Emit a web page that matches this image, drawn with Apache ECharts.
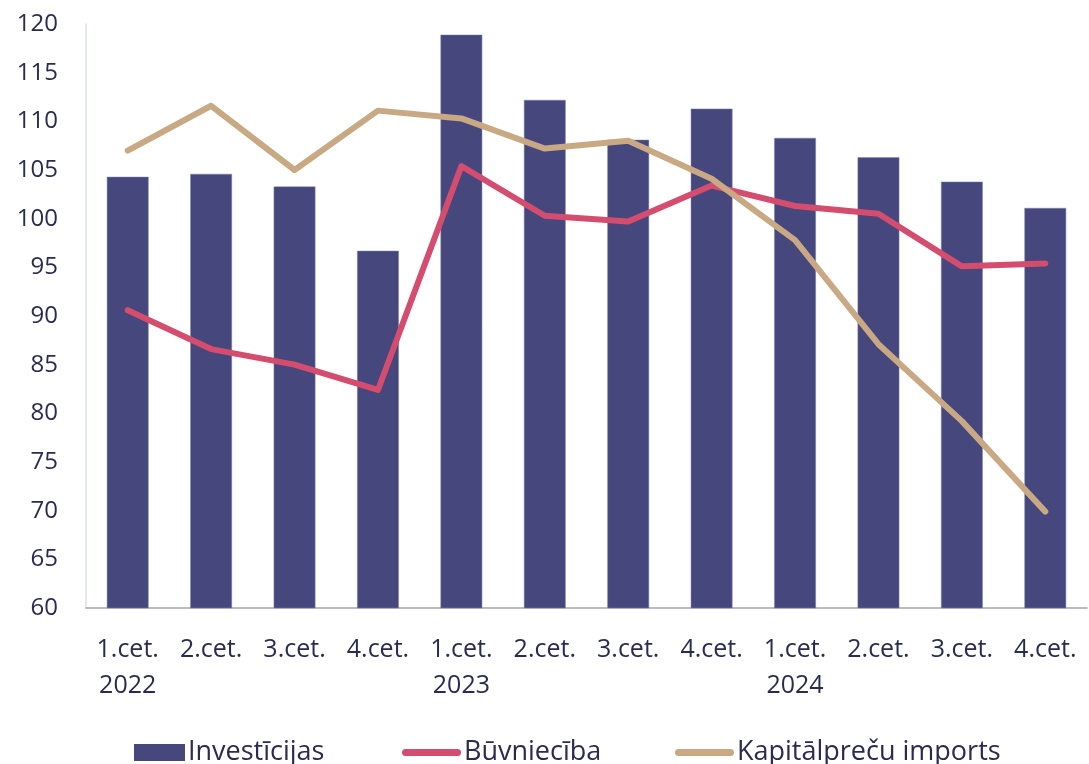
<!DOCTYPE html>
<html>
<head>
<meta charset="utf-8">
<script src="https://cdn.jsdelivr.net/npm/echarts@6/dist/echarts.min.js"></script>
<style>
  html, body { margin: 0; padding: 0; background: #ffffff; }
  #chart { width: 1089px; height: 764px; }
</style>
</head>
<body>
<div id="chart"></div>
<script>
var categories = [
  "1.cet.\n2022", "2.cet.", "3.cet.", "4.cet.",
  "1.cet.\n2023", "2.cet.", "3.cet.", "4.cet.",
  "1.cet.\n2024", "2.cet.", "3.cet.", "4.cet."
];
var investicijas = [104.3, 104.6, 103.3, 96.7, 118.9, 112.2, 108.1, 111.3, 108.3, 106.3, 103.8, 101.1];
var buvnieciba = [90.6, 86.6, 85.0, 82.4, 105.4, 100.3, 99.7, 103.4, 101.3, 100.5, 95.1, 95.4];
var kapitalpreces = [107.0, 111.6, 105.0, 111.1, 110.3, 107.2, 108.0, 104.1, 97.8, 87.1, 79.2, 69.9];

var textColor = "#2b2b52";
// rounded line icon for the legend, padded to a 59x17 box
var lineIcon = "path://M0,0L0,0M59,17L59,17M3.5,5H55.5A3.5,3.5,0,0,1,55.5,12H3.5A3.5,3.5,0,0,1,3.5,5Z";

function legendItem(name, left, width, icon) {
  return {
    top: 734,
    left: left,
    itemWidth: width,
    itemHeight: 17,
    itemGap: 0,
    textStyle: { color: textColor, fontSize: 27, padding: [0, 0, 0, -2] },
    data: [{ name: name, icon: icon, itemStyle: { borderWidth: 0 } }]
  };
}

var myChart = echarts.init(document.getElementById("chart"));
var option = {
  backgroundColor: "#ffffff",
  animation: false,
  textStyle: { fontFamily: "Open Sans" },
  grid: { left: 86, right: 2, top: 24, bottom: 156, containLabel: false },
  legend: [
    legendItem("Investīcijas", 129, 51, "rect"),
    legendItem("Būvniecība", 397, 59, lineIcon),
    legendItem("Kapitālpreču imports", 670, 59, lineIcon)
  ],
  xAxis: {
    type: "category",
    data: categories,
    axisLine: { lineStyle: { color: "#a6a6a6", width: 1.5 } },
    axisTick: { show: false },
    axisLabel: { color: textColor, fontSize: 25, lineHeight: 36, margin: 24, interval: 0 }
  },
  yAxis: {
    type: "value",
    min: 60,
    max: 120,
    interval: 5,
    axisLine: { show: true, lineStyle: { color: "#d9dfee", width: 1.5 } },
    axisTick: { show: false },
    splitLine: { show: false },
    axisLabel: { color: textColor, fontSize: 24, margin: 28 }
  },
  series: [
    {
      name: "Investīcijas",
      type: "bar",
      data: investicijas,
      barWidth: "50%",
      itemStyle: { color: "#45477d", borderColor: "#7c80ad", borderWidth: 0.5 }
    },
    {
      name: "Būvniecība",
      type: "line",
      data: buvnieciba,
      symbol: "none",
      itemStyle: { color: "#d44d6e" },
      lineStyle: { color: "#d44d6e", width: 6, cap: "round", join: "round" }
    },
    {
      name: "Kapitālpreču imports",
      type: "line",
      data: kapitalpreces,
      symbol: "none",
      itemStyle: { color: "#c9a983" },
      lineStyle: { color: "#c9a983", width: 6, cap: "round", join: "round" }
    }
  ]
};
option && myChart.setOption(option);
</script>
</body>
</html>
